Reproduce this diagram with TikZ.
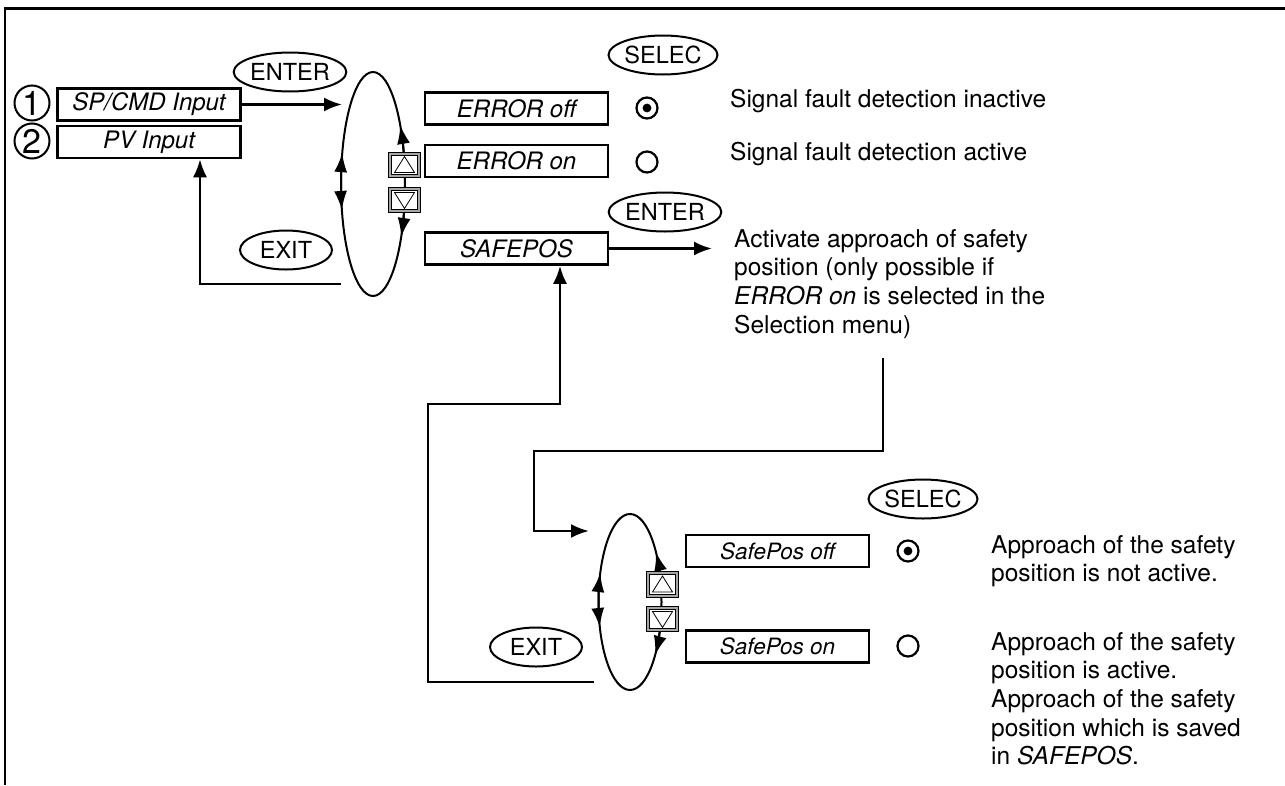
\documentclass[tikz,border=0pt]{standalone}
\usepackage{fontspec}
\setmainfont{TeX Gyre Heros}
\usetikzlibrary{arrows.meta,shapes.geometric,calc}
\newcommand\uptri[1]{\draw[line width=0.8pt] ($(#1.center)+(-10,7.5)$) -- ++(20,0) -- ++(-10,-16) -- cycle;}
\newcommand\dntri[1]{\draw[line width=0.8pt] ($(#1.center)+(-10,-7.5)$) -- ++(20,0) -- ++(-10,16) -- cycle;}
\begin{document}
\begin{tikzpicture}[x=1pt,y=-1pt,
  every node/.style={font=\fontsize{24.5}{28.5}\selectfont},
  menubox/.style={draw, line width=2.5pt, minimum width=183pt, minimum height=32pt, inner sep=0pt, font=\fontsize{24}{28}\selectfont\itshape},
  key/.style={draw, ellipse, line width=2pt, minimum width=92pt, minimum height=39pt, inner sep=0pt, font=\fontsize{23.5}{26}\selectfont},
  loop/.style={draw, ellipse, line width=2pt, inner sep=0pt},
  conn/.style={line width=2.5pt, -{Latex[length=18pt,width=14pt]}},
  tipline/.style={line width=2pt, -{Latex[length=19pt,width=13pt]}},
  btn/.style={draw=black, line width=0.7pt, double=gray!70, double distance=2.2pt, fill=white, minimum width=29.5pt, minimum height=22.5pt, inner sep=0pt},
  radio/.style={circle, draw, line width=2.2pt, minimum size=21pt, inner sep=0pt},
  num/.style={circle, draw, line width=2pt, minimum size=35pt, inner sep=0pt, font=\fontsize{34}{34}\selectfont},
  desc/.style={anchor=north west, align=left, inner sep=0pt, font=\fontsize{24.5}{28.7}\selectfont},
  plain/.style={anchor=base west, inner sep=0pt, font=\fontsize{24.5}{28.5}\selectfont}
]
\useasboundingbox (0,0) rectangle (1285,785);
% frame
\draw[line width=2.4pt] (5,785) -- (5,8.5) -- (1285,8.5);

% ---------- upper menu ----------
\node[num] (n1) at (32,103) {1};
\node[num] (n2) at (32,141) {2};
\node[menubox] (sp) at (149,104.5) {SP/CMD Input};
\node[menubox] (pv) at (149,142) {PV Input};
\node[key] (enter1) at (290,72) {ENTER};
\node[key] (exit1) at (286,250) {EXIT};

\node[loop, minimum width=64pt, minimum height=224pt] (e1) at (373,184) {};
\draw[tipline] ($(e1.center)+(-32,0)$) arc[start angle=180,end angle=196,x radius=32,y radius=112];
\draw[tipline] ($(e1.center)+(-32,0)$) arc[start angle=180,end angle=166.6,x radius=32,y radius=112];
\draw[tipline] ($(e1.center)+({32*cos(-12)},{112*sin(-12)})$) arc[start angle=-12,end angle=-31.8,x radius=32,y radius=112];
\draw[tipline] ($(e1.center)+({32*cos(12)},{112*sin(12)})$) arc[start angle=12,end angle=28.2,x radius=32,y radius=112];
\node[btn] (up1) at (404.5,165) {};
\node[btn] (dn1) at (404.5,200) {};
\uptri{up1}
\dntri{dn1}

\node[menubox] (eoff) at (516.5,108.5) {ERROR off};
\node[menubox] (eon) at (516.5,161) {ERROR on};
\node[menubox] (safe) at (516.5,248.5) {SAFEPOS};

\node[key] (selec1) at (663,55) {SELEC};
\node[radio] (r1) at (647,108) {};
\fill (r1.center) circle[radius=4.4pt];
\node[radio] (r2) at (647,162) {};
\node[key] (enter2) at (665,212) {ENTER};

\node[plain] (t1) at (730,107) {Signal fault detection inactive};
\node[plain] (t2) at (730,160) {Signal fault detection active};
\node[desc] (t3) at (734,229) {Activate approach of safety\\position (only possible if\\\textit{ERROR on} is selected in the\\Selection menu)};

% connectors upper
\coordinate (e1in) at (342,104.5);
\draw[conn] (sp.east) -- (e1in);
\coordinate (e1out) at (341,284);
\coordinate (x200) at (200,0);
\draw[conn] (e1out) -| (pv.south -| x200);
\coordinate (sfout) at (712,248.5);
\draw[conn] (safe.east) -- (sfout);

% ---------- lower menu ----------
\node[loop, minimum width=63pt, minimum height=176pt] (e2) at (630,602) {};
\draw[tipline] ($(e2.center)+(-31.5,0)$) arc[start angle=180,end angle=199.2,x radius=31.5,y radius=88];
\draw[tipline] ($(e2.center)+(-31.5,0)$) arc[start angle=180,end angle=163.5,x radius=31.5,y radius=88];
\draw[tipline] ($(e2.center)+({31.5*cos(-14)},{88*sin(-14)})$) arc[start angle=-14,end angle=-34.6,x radius=31.5,y radius=88];
\draw[tipline] ($(e2.center)+({31.5*cos(14)},{88*sin(14)})$) arc[start angle=14,end angle=37,x radius=31.5,y radius=88];
\node[btn] (up2) at (662.5,584.5) {};
\node[btn] (dn2) at (662.5,619) {};
\uptri{up2}
\dntri{dn2}

\node[menubox, font=\fontsize{22.5}{26}\selectfont\itshape] (poff) at (777.5,551) {SafePos off};
\node[menubox, font=\fontsize{22.5}{26}\selectfont\itshape] (pon) at (777.5,646.5) {SafePos on};
\node[key] (selec2) at (923,499) {SELEC};
\node[key] (exit2) at (536,647) {EXIT};
\node[radio] (r3) at (908,551) {};
\fill (r3.center) circle[radius=4.4pt];
\node[radio] (r4) at (908,646) {};

\node[desc] (t4) at (991,535) {Approach of the safety\\position is not active.};
\node[desc] (t5) at (991,632) {Approach of the safety\\position is active.\\Approach of the safety\\position which is saved\\in \textit{SAFEPOS}.};

% connectors lower
\coordinate (t3down) at (883,358);
\coordinate (e2in) at (589,531);
\draw[conn] (t3down) |- (534,451) |- (e2in);
\coordinate (e2out) at (594,682);
\coordinate (x560) at (560,0);
\draw[conn] (e2out) -| (428,404) -| (safe.south -| x560);
\end{tikzpicture}
\end{document}
